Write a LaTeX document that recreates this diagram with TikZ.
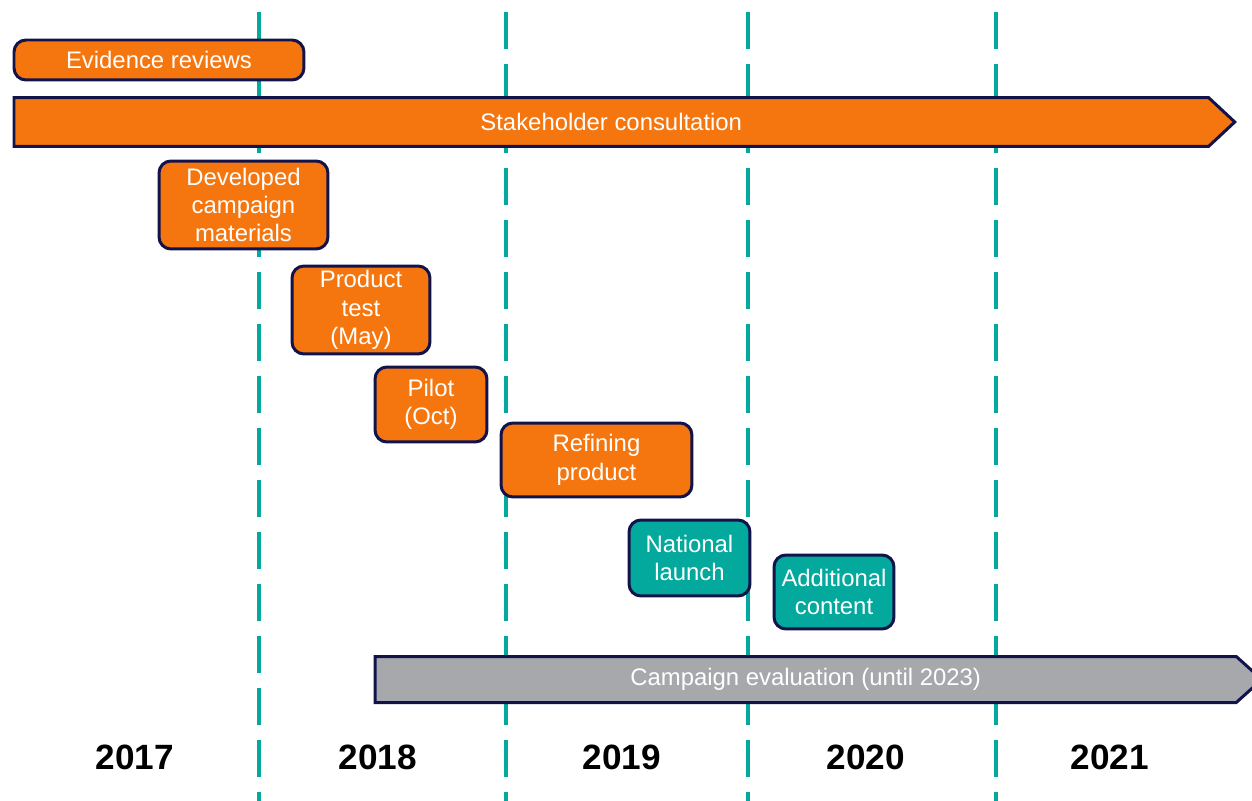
\documentclass[tikz,border=0pt]{standalone}
\usepackage{fontspec}
\setmainfont{Liberation Sans}
\usetikzlibrary{shapes.symbols}
\definecolor{navy}{HTML}{11134A}
\definecolor{ember}{HTML}{F5760F}
\definecolor{lagoon}{HTML}{03A99C}
\definecolor{slate}{HTML}{A7A8AC}

\begin{document}
\begin{tikzpicture}[x=0.02cm, y=-0.02cm,
    task/.style={rectangle, rounded corners=0.24cm, draw=navy, line width=0.06cm, fill=ember,
      text=white, align=center, inner sep=0pt, anchor=north west,
      font=\fontsize{13.6}{16.2}\selectfont},
    phase/.style={signal, signal to=east, signal pointer angle=86, draw=navy, line width=0.06cm,
      fill=ember, text=white, inner sep=0pt, anchor=west, font=\fontsize{13.6}{16.2}\selectfont},
    yearline/.style={lagoon, line width=0.09cm, dash pattern=on 0.74cm off 0.3cm},
    year/.style={font=\fontsize{20}{24}\selectfont\bfseries}]
  \useasboundingbox (0,0) rectangle (1252,801);

  % year boundaries
  \foreach \x in {259,506,748,996}
    \draw[yearline] (\x,12) -- (\x,801);

  \node[task, minimum width=5.80cm, minimum height=0.80cm] (evid) at (12.5,38.5) {Evidence reviews};
  \node[phase, minimum width=24.42cm, minimum height=0.98cm] (consult) at (12.5,122) {Stakeholder consultation};
  \node[task, minimum width=3.38cm, minimum height=1.76cm] (develop) at (157.5,159.5) {Developed\\campaign\\materials};
  \node[task, minimum width=2.76cm, minimum height=1.76cm] (ptest) at (290.5,264.5) {Product\\test\\(May)};
  \node[task, minimum width=2.24cm, minimum height=1.50cm] (pilot) at (373.5,365.5) {Pilot\\(Oct)};
  \node[task, minimum width=3.82cm, minimum height=1.48cm] (refine) at (499.5,421.5) {Refining\\product};
  \node[task, fill=lagoon, minimum width=2.42cm, minimum height=1.52cm] (launch) at (627.5,518.5) {National\\launch};
  \node[task, fill=lagoon, minimum width=2.40cm, minimum height=1.48cm] (extra) at (772.5,553.5) {Additional\\content};
  \node[phase, fill=slate, signal pointer angle=84, minimum width=17.74cm, minimum height=0.92cm] (evalu) at (373.5,679.5) {Campaign evaluation (until 2023)};

  % years along the bottom
  \foreach \yr/\x in {2017/135,2018/378,2019/622,2020/866,2021/1110}
    \node[year] (y\yr) at (\x,757) {\yr};
\end{tikzpicture}
\end{document}
